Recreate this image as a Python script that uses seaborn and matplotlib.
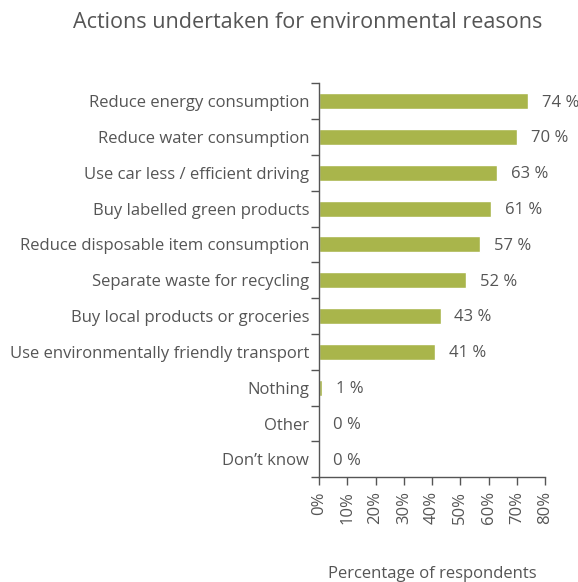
import matplotlib
matplotlib.use("Agg")
import matplotlib.pyplot as plt
import seaborn as sns
import pandas as pd
import numpy as np

categories = ["Reduce energy consumption", "Reduce water consumption", "Use car less / efficient driving",
              "Buy labelled green products", "Reduce disposable item consumption", "Separate waste for recycling",
              "Buy local products or groceries", "Use environmentally friendly transport", "Nothing", "Other",
              "Don\u2019t know"]
values = [74, 70, 63, 61, 57, 52, 43, 41, 1, 0, 0]
xticks = [0, 10, 20, 30, 40, 50, 60, 70, 80]

sns.set_style("white")
plt.rcParams['font.family'] = ['Open Sans', 'DejaVu Sans']
gray = "#555555"
df = pd.DataFrame({"cat": categories, "val": values})

fig = plt.figure(figsize=(5.78, 5.82), dpi=100)
ax = fig.add_axes([0.552, 0.180, 0.391, 0.677])
sns.barplot(data=df, y="cat", x="val", orient="h", color="#A9B54B", saturation=1, width=0.45, ax=ax)
ax.set_xlim(0, 80)
ax.set_ylim(len(categories) - 0.5, -0.5)
ax.set_xticks(xticks)
ax.set_xticklabels([f"{t}%" for t in xticks], rotation=90, fontsize=12, color=gray)
ax.set_yticks(np.arange(len(categories)))
ax.set_yticklabels(categories, fontsize=12, color=gray)
ax.tick_params(axis="y", length=0, pad=7)
ax.set_yticks(np.arange(len(categories) + 1) - 0.5, minor=True)
ax.tick_params(axis="y", which="minor", length=6, color="#555555", width=1, direction="out", left=True)
ax.tick_params(axis="x", length=6, color="#555555", width=1, direction="out", bottom=True, pad=4)
for s in ["top", "right"]:
    ax.spines[s].set_visible(False)
for s in ["left", "bottom"]:
    ax.spines[s].set_color("#555555")
    ax.spines[s].set_linewidth(1)
ax.set_ylabel("")
ax.set_xlabel("Percentage of respondents", fontsize=12, color=gray, labelpad=30)
for i, v in enumerate(values):
    ax.annotate(f"{v} %", xy=(v, i), xytext=(10, -1), textcoords="offset points",
                va="center", ha="left", fontsize=12, color=gray)
fig.text(0.533, 0.962, "Actions undertaken for environmental reasons", ha="center", va="center",
         fontsize=15.5, color=gray)
fig.savefig("out.png", dpi=100)
